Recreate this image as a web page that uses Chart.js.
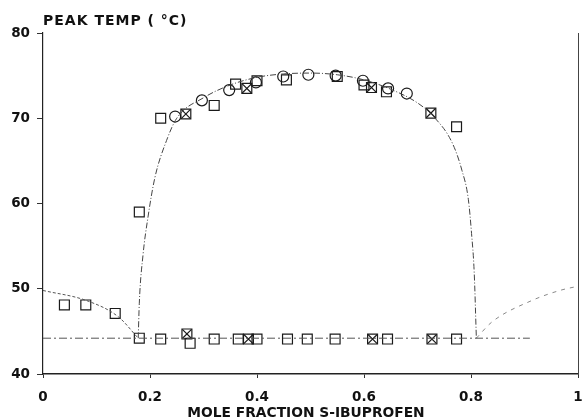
<!DOCTYPE html>
<html>
<head>
<meta charset="utf-8">
<script src="https://cdn.jsdelivr.net/npm/chart.js@4"></script>
<style>
  html, body { margin: 0; padding: 0; background: #fff; }
  #wrap { width: 583px; height: 420px; }
</style>
</head>
<body>
<div id="wrap"><canvas id="chart"></canvas></div>
<script>
// tick labels
const xTicks = [0, 0.2, 0.4, 0.6, 0.8, 1]
const yTicks = [40, 50, 60, 70, 80]

// open squares
const squareX = [0.18, 0.22, 0.32, 0.36, 0.40, 0.455, 0.55, 0.60, 0.642, 0.773,
  0.04, 0.08, 0.135, 0.18, 0.22, 0.275, 0.32, 0.365, 0.40, 0.457, 0.494, 0.546, 0.644, 0.773]
const squareY = [59.0, 70.0, 71.5, 74.0, 74.4, 74.5, 74.9, 73.9, 73.1, 69.0,
  48.1, 48.1, 47.1, 44.2, 44.1, 43.6, 44.1, 44.1, 44.1, 44.1, 44.1, 44.1, 44.1, 44.1]

// crossed squares
const crossX = [0.267, 0.381, 0.614, 0.725, 0.269, 0.384, 0.616, 0.727]
const crossY = [70.5, 73.5, 73.6, 70.6, 44.7, 44.1, 44.1, 44.1]

// circles
const circleX = [0.247, 0.297, 0.348, 0.398, 0.449, 0.496, 0.547, 0.598, 0.645, 0.68]
const circleY = [70.2, 72.1, 73.3, 74.2, 74.9, 75.1, 75.0, 74.4, 73.5, 72.9]

// curves drawn in the figure
const domeX = [0.178, 0.18, 0.187, 0.196, 0.209, 0.231, 0.25, 0.3, 0.35, 0.4, 0.45, 0.5,
  0.55, 0.6, 0.65, 0.7, 0.73, 0.765, 0.783, 0.795, 0.801, 0.806, 0.81]
const domeY = [44.2, 48.3, 54, 58.3, 63, 67.4, 70.0, 72.4, 73.9, 74.8, 75.2, 75.3,
  75.1, 74.5, 73.4, 71.8, 70.2, 67.1, 63.9, 60.5, 56.5, 51.9, 44.2]
const leftX = [0, 0.082, 0.141, 0.178]
const leftY = [49.8, 48.6, 46.7, 44.2]
const rightX = [0.81, 0.839, 0.913, 0.966, 1]
const rightY = [44.2, 46.1, 48.6, 49.8, 50.3]
const eutX = [0, 0.91]
const eutY = [44.2, 44.2]

const pts = (xs, ys) => xs.map((x, i) => ({x: x, y: ys[i]}))
const font = {family: "'DejaVu Sans', sans-serif", size: 13.5, weight: 'bold'}

const markerSet = (data, style, r) => ({
  data: data, showLine: false, pointStyle: style, pointRadius: r,
  pointBorderColor: '#1a1a1a', pointBackgroundColor: 'rgba(0,0,0,0)', pointBorderWidth: 1.2
})
const lineSet = (data, dash, color) => ({
  data: data, showLine: true, pointRadius: 0, borderColor: color, borderWidth: 1,
  borderDash: dash, cubicInterpolationMode: 'monotone', fill: false
})

// axis captions, placed as in the scanned figure
const captions = {
  id: 'captions',
  afterDraw(chart) {
    const ctx = chart.ctx
    ctx.save()
    ctx.fillStyle = '#111'
    ctx.textBaseline = 'middle'
    ctx.font = "bold 14px 'DejaVu Sans', sans-serif"
    ctx.letterSpacing = '1px'
    ctx.textAlign = 'left'
    ctx.fillText('PEAK TEMP ( °C)', chart.chartArea.left, 21)
    ctx.font = "bold 13.8px 'DejaVu Sans', sans-serif"
    ctx.letterSpacing = '0px'
    ctx.textAlign = 'center'
    ctx.fillText('MOLE FRACTION S-IBUPROFEN', 306, 413)
    ctx.restore()
  }
}

new Chart(document.getElementById('chart'), {
  type: 'scatter',
  data: {
    datasets: [
      lineSet(pts(eutX, eutY), [8, 3, 2, 3], '#555'),
      lineSet(pts(domeX, domeY), [6, 2, 1, 2], '#444'),
      lineSet(pts(leftX, leftY), [3, 2], '#555'),
      lineSet(pts(rightX, rightY), [4, 5], '#888'),
      markerSet(pts(squareX, squareY), 'rect', 7),
      markerSet(pts(crossX, crossY), 'rect', 7),
      markerSet(pts(crossX, crossY), 'crossRot', 6.5),
      markerSet(pts(circleX, circleY), 'circle', 5.5)
    ]
  },
  options: {
    responsive: true,
    maintainAspectRatio: false,
    animation: false,
    layout: {autoPadding: false, padding: {top: 33, right: 5, left: 0, bottom: 0}},
    plugins: {legend: {display: false}, tooltip: {enabled: false}},
    scales: {
      x: {
        type: 'linear', min: 0, max: 1,
        afterBuildTicks: s => { s.ticks = xTicks.map(v => ({value: v})) },
        afterFit: s => { s.height = 46; s.paddingLeft = 0; s.paddingRight = 0 },
        grid: {display: true, drawOnChartArea: false, tickLength: 4, color: '#333'},
        border: {color: '#222', width: 1.5},
        ticks: {color: '#111', font: font, padding: 11, maxRotation: 0,
          callback: v => String(v)}
      },
      y: {
        type: 'linear', min: 40, max: 80,
        afterBuildTicks: s => { s.ticks = yTicks.map(v => ({value: v})) },
        afterFit: s => { s.width = 43; s.paddingTop = 0; s.paddingBottom = 0 },
        grid: {display: true, drawOnChartArea: false, tickLength: 6, color: '#333'},
        border: {color: '#222', width: 1.2},
        ticks: {color: '#111', font: font, padding: 7}
      },
      y2: {
        type: 'linear', position: 'right', min: 40, max: 80,
        afterFit: s => { s.width = 0 },
        grid: {display: false},
        border: {color: '#444', width: 1},
        ticks: {display: false}
      }
    }
  },
  plugins: [captions]
})
</script>
</body>
</html>
